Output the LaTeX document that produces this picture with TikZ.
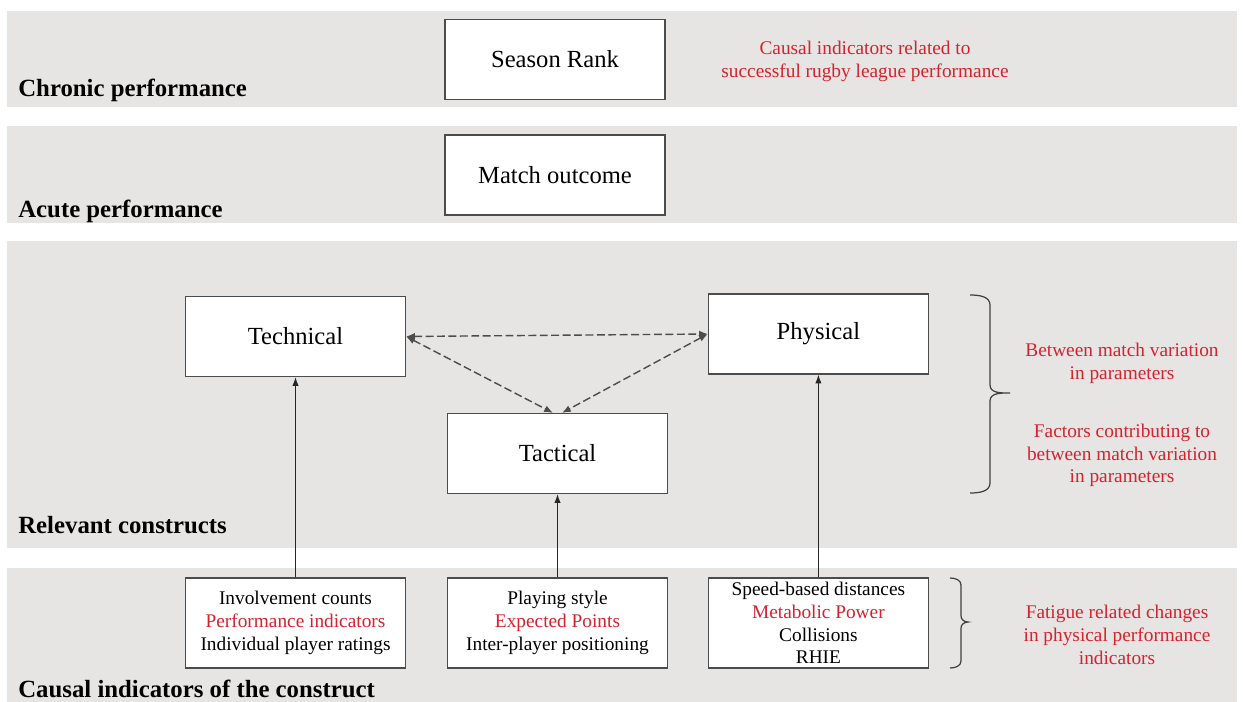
\documentclass[tikz,border=0pt]{standalone}
\usepackage{fontspec}
\setmainfont{Liberation Serif}
\usetikzlibrary{arrows.meta, positioning}
\definecolor{bandgrey}{RGB}{231,228,228}
\definecolor{notered}{RGB}{212,35,45}

\begin{document}
\begin{tikzpicture}[x=0.02cm, y=-0.02cm]
	\tikzstyle{band}=[fill=bandgrey, draw=none]
	\tikzstyle{construct}=[draw=black!70, fill=white, line width=0.7pt, minimum width=4.4cm, minimum height=1.6cm, inner sep=0pt, font=\fontsize{14}{17}\selectfont]
	\tikzstyle{indicators}=[construct, minimum height=1.8cm, align=center, font=\fontsize{11}{13}\selectfont]
	\tikzstyle{level}=[anchor=base west, inner sep=0pt, font=\fontsize{14.1}{17}\selectfont\bfseries]
	\tikzstyle{note}=[align=center, text=notered, font=\fontsize{11}{13}\selectfont]
	\tikzstyle{link}=[draw, black!85, line width=0.6pt, -{Latex[length=5pt,width=3.6pt]}]
	\tikzstyle{relation}=[draw, black!70, line width=0.8pt, dash pattern=on 4.5pt off 2pt, {Latex[length=5pt,width=4pt]}-{Latex[length=5pt,width=4pt]}]
	\tikzstyle{bracket}=[draw, black!75, line width=0.7pt]

	\useasboundingbox (0,0) rectangle (1243,702);

	% bands
	\fill[band] (7,11) rectangle (1237,107);
	\fill[band] (7,126) rectangle (1237,223);
	\fill[band] (7,241) rectangle (1237,548);
	\fill[band] (7,568) rectangle (1237,702);

	\node[level] (chronic) at (18,97) {Chronic performance};
	\node[level] (acute) at (18,218) {Acute performance};
	\node[level] (relevant) at (18,533) {Relevant constructs};
	\node[level] (causal) at (18,697) {Causal indicators of the construct};

	% constructs
	\node[construct] (season) at (555,59.5) {Season Rank};
	\node[construct] (match) at (555,175) {Match outcome};
	\node[construct] (technical) at (295.5,336.5) {Technical};
	\node[construct] (physical) at (818.4,334) {Physical};
	\node[construct] (tactical) at (557.5,453.5) {Tactical};

	% indicators
	\node[indicators] (techind) at (295.5,623) {Involvement counts\\\textcolor{notered}{Performance indicators}\\Individual player ratings};
	\node[indicators] (tactind) at (557.5,623) {Playing style\\\textcolor{notered}{Expected Points}\\Inter-player positioning};
	\node[indicators] (physind) at (818.4,623) {Speed-based distances\\\textcolor{notered}{Metabolic Power}\\Collisions\\RHIE};

	\draw[link] (techind) -- (technical);
	\draw[link] (tactind) -- (tactical);
	\draw[link] (physind) -- (physical);

	\draw[relation] (technical.east) -- (physical.west);
	\draw[relation] (technical.east) -- ([xshift=-0.09cm]tactical.north);
	\draw[relation] (physical.west) -- ([xshift=0.09cm]tactical.north);

	% notes
	\node[note] (causalnote) at (865,61.5) {Causal indicators related to\\successful rugby league performance};
	\node[note] (between) at (1122,363.5) {Between match variation\\in parameters};
	\node[note] (factors) at (1122,455.5) {Factors contributing to\\between match variation\\in parameters};
	\node[note] (fatigue) at (1117,635) {Fatigue related changes\\in physical performance\\indicators};

	% braces
	\draw[bracket] (970,295) to[out=0,in=90] (990,305) -- (990,385) to[out=-90,in=180] (1010,393)
		to[out=180,in=90] (990,401) -- (990,483) to[out=-90,in=0] (970,493);
	\draw[bracket] (950,578) to[out=0,in=90] (961,585) -- (961,616) to[out=-90,in=180] (968,622)
		to[out=180,in=90] (961,628) -- (961,661) to[out=-90,in=0] (950,668);
\end{tikzpicture}
\end{document}
